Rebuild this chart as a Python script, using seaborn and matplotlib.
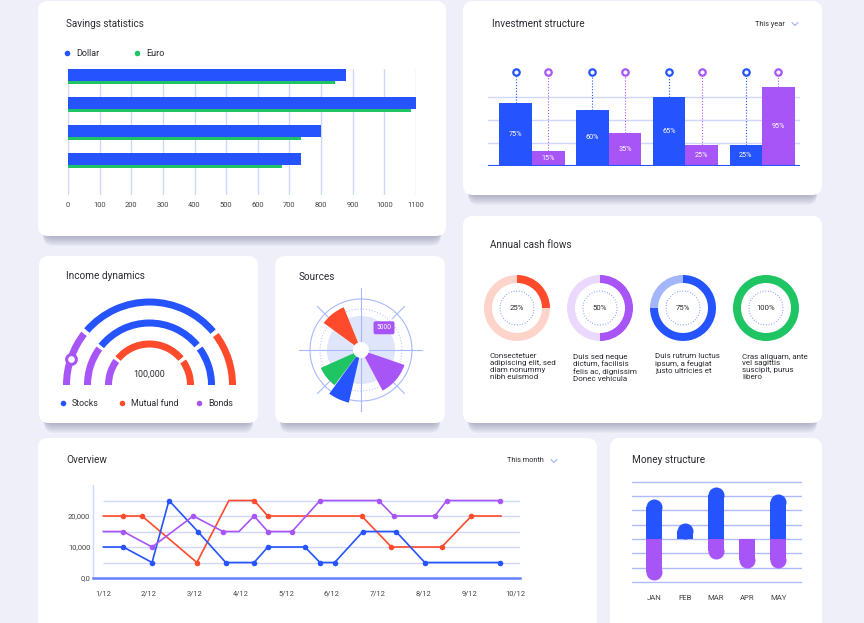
import numpy as np
import pandas as pd
import matplotlib
matplotlib.use("Agg")
import matplotlib.pyplot as plt
import seaborn as sns
from matplotlib.patches import FancyBboxPatch, Circle

sns.set_theme(style="white")
plt.rcParams['font.family'] = ['Roboto', 'DejaVu Sans']

# ---------------- data ----------------
savings_rows = [0, 1, 2, 3]
savings_dollar = [880, 1100, 800, 735]
savings_euro = [845, 1083, 735, 675]
savings_ticks = [0, 100, 200, 300, 400, 500, 600, 700, 800, 900, 1000, 1100]
savings_legend = ["Dollar", "Euro"]

invest_groups = ["Q1", "Q2", "Q3", "Q4"]
invest_a_height = [68, 61, 75, 23]
invest_b_height = [16, 36, 23, 86]
invest_a_labels = ["75%", "60%", "65%", "25%"]
invest_b_labels = ["15%", "35%", "25%", "95%"]

cash_pct = [25, 50, 75, 100]
cash_labels = ["25%", "50%", "75%", "100%"]
cash_texts = [
    "Consectetuer\nadipiscing elit, sed\ndiam nonummy\nnibh euismod",
    "Duis sed neque\ndictum, facilisis\nfelis ac, dignissim\nDonec vehicula",
    "Duis rutrum luctus\nipsum, a feugiat\njusto ultricies et",
    "Cras aliquam, ante\nvel sagittis\nsuscipit, purus\nlibero",
]

income_legend = ["Stocks", "Mutual fund", "Bonds"]
income_outer = [38, 3, 99, 3, 37]     # degrees along the half ring
income_middle = [36, 3, 101, 4, 36]
income_inner = [36, 4, 100, 5, 35]
income_total = "100,000"

src_start = [112, -62, 204, 234]
src_end = [144, -19, 233, 257]
src_value = [46, 46, 44, 54]
src_label = "5000"

ov_xlabels = ["1/12", "2/12", "3/12", "4/12", "5/12", "6/12", "7/12", "8/12", "9/12", "10/12"]
red_x = [1.0, 1.44, 1.85, 3.05, 3.75, 4.30, 4.60, 6.65, 7.30, 8.40, 9.05, 9.70]
red_y = [20000, 20000, 20000, 5000, 25000, 25000, 20000, 20000, 10000, 10000, 20000, 20000]
red_m = [0, 1, 1, 1, 0, 1, 1, 1, 1, 1, 1, 0]
blue_x = [1.0, 1.44, 2.07, 2.44, 3.07, 3.68, 4.30, 4.60, 5.41, 5.74, 6.06, 6.68, 7.40, 8.03, 9.67]
blue_y = [10000, 10000, 5000, 25000, 15000, 5000, 5000, 10000, 10000, 5000, 5000, 15000, 15000, 5000, 5000]
blue_m = [0, 1, 1, 1, 1, 1, 1, 1, 1, 1, 1, 1, 1, 1, 1]
purple_x = [1.0, 1.44, 2.07, 2.97, 3.62, 3.97, 4.30, 4.60, 5.13, 5.74, 7.02, 7.35, 8.25, 8.51, 9.67]
purple_y = [15000, 15000, 10000, 20000, 15000, 15000, 20000, 15000, 15000, 25000, 25000, 20000, 20000, 25000, 25000]
purple_m = [0, 1, 1, 1, 1, 0, 1, 1, 1, 1, 1, 1, 1, 1, 1]

money_months = ["JAN", "FEB", "MAR", "APR", "MAY"]
money_pos = [2.8, 1.1, 3.65, 0.0, 3.15]
money_neg = [-2.9, 0.0, -1.4, -2.0, -2.0]

# ---------------- style ----------------
BLUE = "#2553fe"
RED = "#ff4a2b"
PURPLE = "#a855f7"
GREEN = "#1fc463"
GRID = "#cfd8fc"
BG = "#efeffa"
TXT = "#2b2b33"
LIGHT = {RED: "#fdd3ca", PURPLE: "#ead9fd", BLUE: "#a4b6fb", GREEN: GREEN}

W, H = 864, 623
fig = plt.figure(figsize=(W / 100, H / 100), dpi=100, facecolor=BG)


def add_ax(x0, y0, x1, y1, **kw):
    a = fig.add_axes([x0 / W, 1 - y1 / H, (x1 - x0) / W, (y1 - y0) / H], **kw)
    a.set_facecolor("none")
    return a


bg = fig.add_axes([0, 0, 1, 1])
bg.set_xlim(0, W)
bg.set_ylim(H, 0)
bg.axis("off")
bg.set_facecolor("none")

cards = [(38, 1, 446, 236), (463, 1, 822, 195), (463, 216, 822, 423),
         (39, 256, 258, 423), (275, 256, 445, 423), (38, 438, 597, 645),
         (610, 438, 822, 645)]
for (x0, y0, x1, y1) in cards:
    for k in range(1, 11):
        bg.add_patch(FancyBboxPatch((x0 + 5, y0 + k), x1 - x0 - 10, y1 - y0,
                                    boxstyle="round,pad=0,rounding_size=10",
                                    fc="#50587a", ec="none", alpha=0.045))
    bg.add_patch(FancyBboxPatch((x0, y0), x1 - x0, y1 - y0,
                                boxstyle="round,pad=0,rounding_size=10",
                                fc="white", ec="none"))

tfs = 7.2
titles = [("Savings statistics", 66, 24), ("Investment structure", 492, 24),
          ("Annual cash flows", 490, 245), ("Income dynamics", 66, 276),
          ("Sources", 299, 277), ("Overview", 66, 460), ("Money structure", 632, 460)]
for s, x, y in titles:
    bg.text(x, y, s, fontsize=tfs, color=TXT, va="center", ha="left")

for s, x, y in [("This year", 755, 24), ("This month", 507, 461)]:
    bg.text(x, y, s, fontsize=5.3, color=TXT, va="center", ha="left")
    cx = x + (40 if s == "This year" else 47)
    bg.plot([cx - 3, cx, cx + 3], [y - 1.5, y + 1.5, y - 1.5], color="#9fb0f7", lw=0.8)

# savings legend
for lab, col, x in zip(savings_legend, [BLUE, GREEN], [67, 137]):
    bg.scatter([x], [53], s=16, color=col, lw=0)
    bg.text(x + 9, 53, lab, fontsize=6.5, color=TXT, va="center")

# income legend
for lab, col, x in zip(income_legend, [BLUE, RED, PURPLE], [63, 122, 199]):
    bg.scatter([x], [403], s=16, color=col, lw=0)
    bg.text(x + 9, 403, lab, fontsize=6.4, color=TXT, va="center")

# ---------------- Savings statistics ----------------
ax1 = add_ax(68, 69, 416, 195)
for v in savings_ticks:
    ax1.axvline(v, color=GRID, lw=1, zorder=0)
rows = np.array(savings_rows, dtype=float)
sns.barplot(x=savings_dollar, y=rows, orient="y", native_scale=True, width=12 / 28,
            color=BLUE, saturation=1, errorbar=None, linewidth=0, ax=ax1, zorder=3)
sns.barplot(x=savings_euro, y=rows + 7.75 / 28, orient="y", native_scale=True, width=3.5 / 28,
            color=GREEN, saturation=1, errorbar=None, linewidth=0, ax=ax1, zorder=2)
ax1.set_xlim(0, 1100)
ax1.set_ylim(4.286, -0.214)
ax1.set_xticks(savings_ticks)
ax1.set_xticklabels([str(t) for t in savings_ticks])
ax1.set_yticks([])
ax1.tick_params(axis="x", length=0, pad=5, labelsize=5.4, labelcolor="#444")
ax1.set_xlabel("")
ax1.set_ylabel("")
for sp in ax1.spines.values():
    sp.set_visible(False)

# ---------------- Investment structure ----------------
ax2 = add_ax(488, 60, 800, 166)
for g in [25, 50, 75]:
    ax2.axhline(g, color=GRID, lw=1, zorder=0)
df2 = pd.DataFrame({"group": invest_groups * 2,
                    "series": ["a"] * 4 + ["b"] * 4,
                    "value": invest_a_height + invest_b_height})
sns.barplot(data=df2, x="group", y="value", hue="series", palette=[BLUE, PURPLE],
            saturation=1, width=0.85, dodge=True, gap=0, errorbar=None, legend=False,
            linewidth=0, ax=ax2, zorder=2)
ax2.axhline(0, color=BLUE, lw=1.5, zorder=3)
pin_y = 102
for cont, labs, col in zip(ax2.containers, [invest_a_labels, invest_b_labels], [BLUE, PURPLE]):
    ax2.bar_label(cont, labels=labs, label_type="center", color="white", fontsize=5.2)
    for rect in cont:
        xc = rect.get_x() + rect.get_width() / 2
        top = rect.get_height()
        ax2.vlines(xc, top, pin_y, color=col, lw=0.8, linestyles=(0, (1, 1.6)), zorder=1)
        ax2.plot([xc], [pin_y], "o", ms=4.6, mfc="white", mec=col, mew=1.6, zorder=4, clip_on=False)
ax2.set_xlim(-0.574, 3.494)
ax2.set_ylim(0, 115.2)
ax2.axis("off")

# ---------------- Annual cash flows ----------------
ax3 = add_ax(475, 266, 810, 350)
for i, (p, lab, col, txt) in enumerate(zip(cash_pct, cash_labels, [RED, PURPLE, BLUE, GREEN], cash_texts)):
    cx, cy = 517 + 83 * i, H - 308
    ax3.pie([p, 100 - p], colors=[col, LIGHT[col]], startangle=90, counterclock=False,
            radius=33, center=(cx, cy), wedgeprops=dict(width=8, linewidth=0))
    ax3.add_patch(Circle((cx, cy), 17, fill=False, ec=BLUE, lw=0.6, ls=(0, (1, 2.2)), alpha=0.8))
    ax3.text(cx, cy, lab, ha="center", va="center", fontsize=5.6, color=TXT)
    bg.text(490 + 83 * i - (1 if i == 2 else 0) + (3 if i == 3 else 0), 353.5, txt, fontsize=5.8,
            color=TXT, va="top", ha="left", linespacing=1.18)
ax3.set_xlim(475, 810)
ax3.set_ylim(H - 350, H - 266)
ax3.set_aspect("auto")
ax3.axis("off")

# ---------------- Income dynamics ----------------
ax4 = add_ax(55, 290, 245, 396)
center = (149.5, H - 385)
rings = [(83, income_outer, [PURPLE, "none", BLUE, "none", RED]),
         (62, income_middle, [PURPLE, "none", BLUE, "none", BLUE]),
         (41, income_inner, [PURPLE, "none", RED, "none", RED])]
for r, segs, cols in rings:
    ax4.pie(segs + [180], colors=cols + ["none"], startangle=180, counterclock=False,
            radius=r + 3.5, center=center, wedgeprops=dict(width=7, linewidth=0))
ang = np.deg2rad(162)
ax4.plot([center[0] + 83 * np.cos(ang)], [center[1] + 83 * np.sin(ang)], "o",
         ms=7, mfc="white", mec=PURPLE, mew=2.2, zorder=5)
ax4.text(center[0], H - 374, income_total, ha="center", va="center", fontsize=6.4, color=TXT)
ax4.set_xlim(55, 245)
ax4.set_ylim(H - 396, H - 290)
ax4.set_aspect("auto")
ax4.axis("off")

# ---------------- Sources ----------------
ax5 = add_ax(299, 288, 423, 412, projection="polar")
ax5.set_ylim(0, 62)
th = np.linspace(0, 2 * np.pi, 300)
ax5.bar(0, 34, width=2 * np.pi, color="#dfe5fb", zorder=0, linewidth=0)
ax5.plot(th, np.full_like(th, 51), color="#a9b9fb", lw=0.8, zorder=1)
ax5.plot(th, np.full_like(th, 41), color="#a9b9fb", lw=0.7, ls=(0, (1, 2)), zorder=1)
for a in [0, 90, 180, 270]:
    ax5.plot([np.deg2rad(a)] * 2, [0, 62], color="#a9b9fb", lw=0.8, zorder=1)
for a in [45, 135, 225, 315]:
    ax5.plot([np.deg2rad(a)] * 2, [44, 62], color="#a9b9fb", lw=0.8, zorder=1)
for s, e, v, col in zip(src_start, src_end, src_value, [RED, PURPLE, GREEN, BLUE]):
    ax5.bar(np.deg2rad((s + e) / 2), v, width=np.deg2rad(e - s), bottom=0,
            color=col, linewidth=0, zorder=2)
ax5.bar(0, 8, width=2 * np.pi, color="white", zorder=3, linewidth=0)
ax5.text(np.deg2rad(44), 32, src_label, ha="center", va="center", fontsize=4.8, color="white",
         zorder=4, bbox=dict(boxstyle="round,pad=0.45,rounding_size=0.3", fc=PURPLE, ec="none"))
ax5.grid(False)
ax5.set_xticks([])
ax5.set_yticks([])
ax5.spines["polar"].set_visible(False)

# ---------------- Overview ----------------
ax6 = add_ax(93, 485, 520, 578)
ax6.hlines([5000, 10000, 15000, 20000, 25000], 1, 10.11, color=GRID, lw=1, zorder=0)
for xs, ys, ms, col in [(red_x, red_y, red_m, RED), (blue_x, blue_y, blue_m, BLUE),
                        (purple_x, purple_y, purple_m, PURPLE)]:
    sns.lineplot(x=xs, y=ys, color=col, lw=1.2, estimator=None, ax=ax6, zorder=2)
    mk = np.array(ms, dtype=bool)
    sns.scatterplot(x=np.array(xs)[mk], y=np.array(ys)[mk], color=col, s=16,
                    linewidth=0, ax=ax6, zorder=3)
ax6.set_xlim(0.78, 10.11)
ax6.set_ylim(0, 30000)
ax6.set_xticks(range(1, 11))
ax6.set_xticklabels(ov_xlabels)
ax6.set_yticks([0, 10000, 20000])
ax6.set_yticklabels(["0,0", "10,000", "20,000"])
ax6.tick_params(length=0, labelsize=5.4, labelcolor="#444")
ax6.tick_params(axis="x", pad=9)
ax6.tick_params(axis="y", pad=2)
for k in ["top", "right"]:
    ax6.spines[k].set_visible(False)
ax6.spines["left"].set_color(GRID)
ax6.spines["left"].set_linewidth(1)
ax6.spines["bottom"].set_color("#6282fb")
ax6.spines["bottom"].set_linewidth(1.8)

# ---------------- Money structure ----------------
ax7 = add_ax(632, 478, 802, 585)
for g in range(-3, 5):
    ax7.axhline(g, color="#aebcfb", lw=1, zorder=0)
r_cap = 8 / 14.3
pos_body = [v - r_cap if v > 0 else 0 for v in money_pos]
neg_body = [v + r_cap if v < 0 else 0 for v in money_neg]
sns.barplot(x=money_months, y=pos_body, color=BLUE, width=0.516, saturation=1,
            errorbar=None, linewidth=0, ax=ax7, zorder=2)
sns.barplot(x=money_months, y=neg_body, color=PURPLE, width=0.516, saturation=1,
            errorbar=None, linewidth=0, ax=ax7, zorder=2)
cap_s = (16 * 0.72) ** 2
for i, (p, n) in enumerate(zip(pos_body, neg_body)):
    if money_pos[i] > 0:
        ax7.scatter([i], [p], s=cap_s, color=BLUE, lw=0, zorder=2)
    if money_neg[i] < 0:
        ax7.scatter([i], [n], s=cap_s, color=PURPLE, lw=0, zorder=2)
ax7.set_xlim(-0.71, 4.77)
ax7.set_ylim(-3.22, 4.27)
ax7.set_yticks([])
ax7.set_xlabel("")
ax7.set_ylabel("")
ax7.tick_params(axis="x", length=0, pad=7, labelsize=5.6, labelcolor="#444")
for sp in ax7.spines.values():
    sp.set_visible(False)

fig.savefig("out.png", dpi=100, facecolor=BG)
